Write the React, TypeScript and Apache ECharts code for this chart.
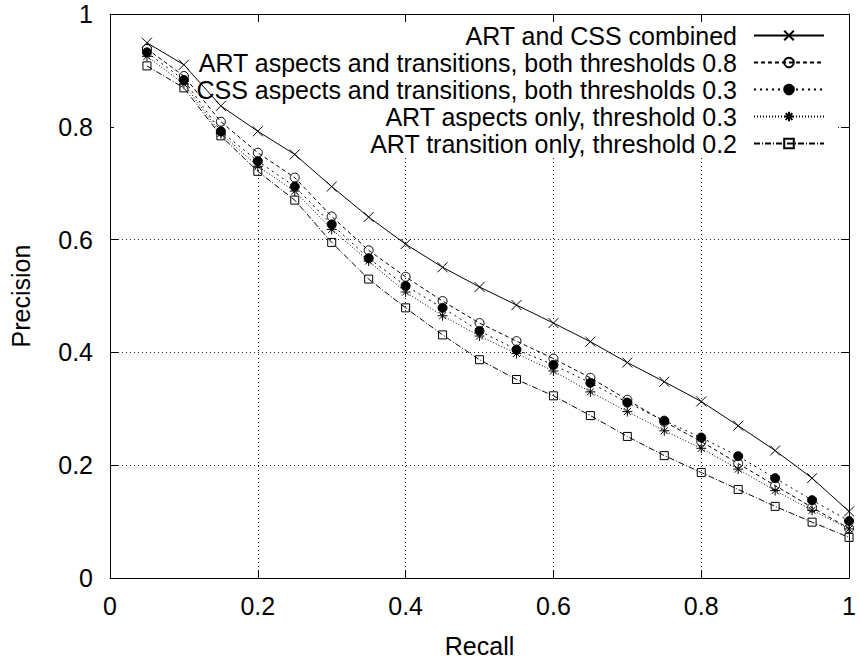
import React, { useEffect, useRef } from "react";
import * as echarts from "echarts";

const FONT = "'Liberation Sans', Arial, Helvetica, sans-serif";

const recall = [0.05, 0.1, 0.15, 0.2, 0.25, 0.3, 0.35, 0.4, 0.45, 0.5, 0.55, 0.6, 0.65, 0.7, 0.75, 0.8, 0.85, 0.9, 0.95, 1.0];

const seriesNames = [
  "ART and CSS combined",
  "ART aspects and transitions, both thresholds 0.8",
  "CSS aspects and transitions, both thresholds 0.3",
  "ART aspects only, threshold 0.3",
  "ART transition only, threshold 0.2",
];

const combined = [0.949, 0.91, 0.837, 0.792, 0.751, 0.694, 0.64, 0.592, 0.551, 0.516, 0.484, 0.452, 0.419, 0.382, 0.348, 0.313, 0.27, 0.226, 0.177, 0.118];
const artBoth08 = [0.938, 0.89, 0.809, 0.754, 0.71, 0.641, 0.581, 0.534, 0.491, 0.452, 0.42, 0.389, 0.355, 0.316, 0.277, 0.242, 0.203, 0.164, 0.125, 0.088];
const cssBoth03 = [0.932, 0.883, 0.792, 0.739, 0.694, 0.627, 0.567, 0.518, 0.479, 0.438, 0.405, 0.378, 0.346, 0.311, 0.279, 0.249, 0.216, 0.177, 0.138, 0.101];
const artAspects03 = [0.925, 0.876, 0.788, 0.73, 0.686, 0.618, 0.562, 0.507, 0.465, 0.429, 0.398, 0.367, 0.33, 0.295, 0.261, 0.23, 0.193, 0.155, 0.12, 0.087];
const artTransition02 = [0.908, 0.869, 0.784, 0.721, 0.67, 0.595, 0.53, 0.479, 0.431, 0.387, 0.352, 0.323, 0.288, 0.251, 0.217, 0.187, 0.157, 0.127, 0.099, 0.072];

const seriesValues = [combined, artBoth08, cssBoth03, artAspects03, artTransition02];

const CROSS = "path://M0,0L10,10M10,0L0,10";
const STAR = "path://M5,0L5,10M0,5L10,5M1.5,1.5L8.5,8.5M8.5,1.5L1.5,8.5";

const symbols = [CROSS, "circle", "circle", STAR, "rect"];
const symbolSizes = [10, 9, 9, 10, 8];
const fills = ["rgba(0,0,0,0)", "rgba(0,0,0,0)", "#000", "rgba(0,0,0,0)", "rgba(0,0,0,0)"];
const dashes: any[] = ["solid", [4, 3], [2, 4], [1, 2], [6, 2, 1, 2]];

export default function App() {
  const ref = useRef<HTMLDivElement>(null);
  useEffect(() => {
    if (!ref.current) return;
    const chart = echarts.init(ref.current, null, { renderer: "svg" });
    const axisLine = { show: true, onZero: false, lineStyle: { color: "#000", width: 1 } };
    const axisTick = { show: true, inside: true, length: 8, lineStyle: { color: "#000", width: 1 } };
    const labelStyle = { fontSize: 25, color: "#000", fontFamily: FONT };
    const gridLine = { show: true, lineStyle: { type: [1, 3], color: "#222", width: 1 } };

    const option: any = {
      animation: false,
      backgroundColor: "#fff",
      grid: { left: 105, right: 4, top: 14, bottom: 83 },
      xAxis: [
        {
          type: "value", min: 0, max: 1, interval: 0.2, position: "bottom",
          axisLine, axisTick,
          axisLabel: { ...labelStyle, margin: 15 },
          splitLine: gridLine,
          name: "Recall", nameLocation: "middle", nameGap: 55,
          nameTextStyle: { ...labelStyle },
        },
        {
          type: "value", min: 0, max: 1, interval: 0.2, position: "top",
          axisLine, axisTick, axisLabel: { show: false }, splitLine: { show: false }, z: 5,
        },
      ],
      yAxis: [
        {
          type: "value", min: 0, max: 1, interval: 0.2, position: "left",
          axisLine, axisTick,
          axisLabel: { ...labelStyle, margin: 17 },
          splitLine: gridLine,
          name: "Precision", nameLocation: "middle", nameGap: 77,
          nameTextStyle: { ...labelStyle },
        },
        {
          type: "value", min: 0, max: 1, interval: 0.2, position: "right",
          axisLine, axisTick, axisLabel: { show: false }, splitLine: { show: false }, z: 5,
        },
      ],
      graphic: {
        elements: [
          {
            type: "rect", z: 1, silent: true,
            shape: { x: 114, y: 15, width: 721, height: 143 },
            style: { fill: "#fff" },
          },
        ],
      },
      legend: seriesNames.map((n, i) => ({
        data: [n],
        right: 34,
        top: 23 + 27 * i,
        orient: "vertical",
        align: "right",
        padding: 0,
        itemWidth: 70,
        itemHeight: 12,
        selectedMode: false,
        textStyle: { fontSize: 25, color: "#000", fontFamily: FONT, lineHeight: 25, padding: [0, 12, 0, 0] },
      })),
      series: seriesNames.map((n, i) => ({
        name: n,
        type: "line",
        xAxisIndex: 0,
        yAxisIndex: 0,
        data: recall.map((x, j) => [x, seriesValues[i][j]]),
        symbol: symbols[i],
        symbolSize: symbolSizes[i],
        showSymbol: true,
        lineStyle: { color: "#000", width: 1, type: dashes[i] },
        itemStyle: { color: fills[i], borderColor: "#000", borderWidth: 1 },
        emphasis: { disabled: true },
      })),
    };
    chart.setOption(option);
    return () => chart.dispose();
  }, []);
  return (
    <div
      ref={ref}
      style={{ position: "fixed", left: 0, top: 0, width: 859, height: 663, background: "#fff" }}
    />
  );
}
